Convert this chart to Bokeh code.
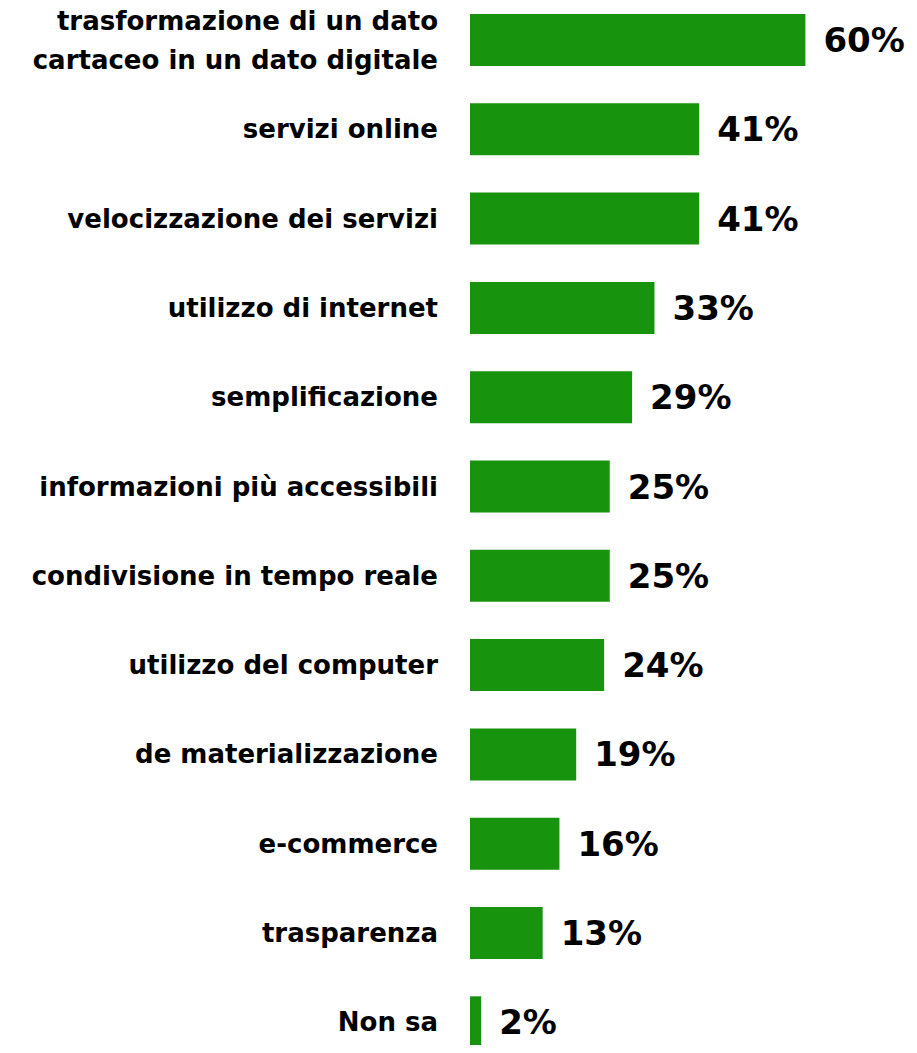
from bokeh.plotting import figure
from bokeh.models import ColumnDataSource, Range1d
from bokeh.core.properties import value
from bokeh.embed import file_html
from bokeh.resources import INLINE

categories = [
    "trasformazione di un dato\ncartaceo in un dato digitale",
    "servizi online",
    "velocizzazione dei servizi",
    "utilizzo di internet",
    "semplificazione",
    "informazioni più accessibili",
    "condivisione in tempo reale",
    "utilizzo del computer",
    "de materializzazione",
    "e-commerce",
    "trasparenza",
    "Non sa",
]
values = [60, 41, 41, 33, 29, 25, 25, 24, 19, 16, 13, 2]
value_labels = [f"{v}%" for v in values]

W, H = 909, 1045
px_per_unit = 5.59
x0_px = 469.5
pitch = 89.3
first_center = 39.5

pos = list(range(len(categories)))
src = ColumnDataSource(dict(y=pos, v=values, cat=categories, lab=value_labels,
                            zero=[0] * len(values)))

p = figure(width=W, height=H, output_backend="svg", toolbar_location=None,
           x_range=Range1d(-x0_px / px_per_unit, (W - x0_px) / px_per_unit),
           y_range=Range1d((H - first_center) / pitch, -first_center / pitch),
           min_border=0, outline_line_color=None)
p.axis.visible = False
p.grid.visible = False
p.background_fill_color = "white"
p.border_fill_color = "white"

p.hbar(y="y", left=0, right="v", height=52 / pitch, source=src,
       fill_color="#17930d", line_color=None)

p.text(x="zero", y="y", text="cat", source=src, x_offset=-32,
       text_align="right", text_baseline="middle",
       text_font=value("DejaVu Sans"), text_font_style="bold",
       text_font_size="26px", text_color="black", text_line_height=1.3)

p.text(x="v", y="y", text="lab", source=src, x_offset=18,
       text_align="left", text_baseline="middle",
       text_font=value("DejaVu Sans"), text_font_style="bold",
       text_font_size="34px", text_color="black")

open("out.html", "w").write(file_html(p, INLINE))
